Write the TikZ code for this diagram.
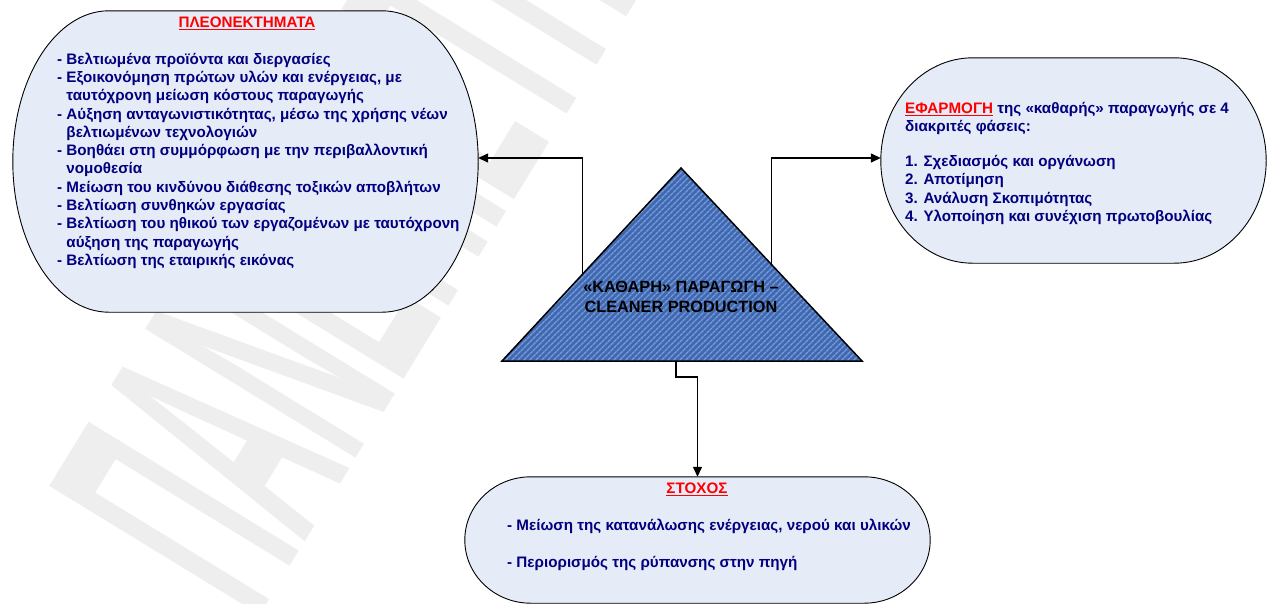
\documentclass[tikz,border=0pt]{standalone}
\usepackage{fontspec}
\setmainfont{Liberation Sans}
\usetikzlibrary{arrows.meta,calc,patterns.meta}

\definecolor{boxfill}{RGB}{230,236,247}
\definecolor{navytext}{RGB}{0,0,128}
\definecolor{headred}{RGB}{255,0,0}
\definecolor{tribase}{RGB}{62,104,178}
\definecolor{tristripe}{RGB}{122,156,214}
\definecolor{wmgrey}{RGB}{238,238,238}

% capsule outline around a named rectangular area: flat top and bottom,
% half-elliptic ends of horizontal radius #2 (pt)
\newcommand\capsule[2]{%
  \path[capsuleline] let \p1=(#1.north west), \p2=(#1.south east) in
    (\x1+#2pt,\y1) -- (\x2-#2pt,\y1)
    arc[start angle=90,end angle=-90,x radius=#2pt,y radius={(\y1-\y2)/2}]
    -- (\x1+#2pt,\y2)
    arc[start angle=270,end angle=90,x radius=#2pt,y radius={(\y1-\y2)/2}]
    -- cycle;}

\begin{document}
\begin{tikzpicture}[x=1pt,y=-1pt,
  area/.style={rectangle,inner sep=0pt,draw=none},
  capsuleline/.style={draw=black,line width=0.9pt,fill=boxfill},
  link/.style={draw=black,line width=1.4pt,-{Triangle[length=10pt,width=9pt]}},
  bodytext/.style={font=\fontsize{15.2}{18.3}\selectfont\bfseries,text=navytext,
                   align=left,inner sep=0pt,anchor=north west},
  headtext/.style={font=\fontsize{15.2}{16}\selectfont\bfseries,text=headred,inner sep=0pt},
  tritext/.style={font=\fontsize{16.3}{20}\selectfont\bfseries,text=black,align=center,inner sep=0pt},
  watermark/.style={font=\fontsize{128}{130}\selectfont\bfseries,text=wmgrey,
                    inner sep=0pt,anchor=base west,rotate=58.5}]

% page
\fill[white] (0,0) rectangle (1272,603);
\useasboundingbox (0,0) rectangle (1272,603);

% faint diagonal watermark behind the diagram, tall and narrow letters
\begin{scope}
\clip (0,0) rectangle (1272,603);
\node[watermark] (wm) at (255,623) {\scalebox{1}[2.8]{ΠΑΝΕΠΙΣΤΗΜΙΟ}};
\end{scope}

% areas of the three rounded boxes
\node[area,minimum width=465pt,minimum height=301pt] (adv) at (245.5,161.5) {};
\node[area,minimum width=385pt,minimum height=205pt] (impl) at (1073.5,160.5) {};
\node[area,minimum width=465pt,minimum height=126pt] (goal) at (697.5,540) {};

\capsule{adv}{96}
\capsule{impl}{92}
\capsule{goal}{66}

% corners of the central triangle
\coordinate (apex) at (681,168);
\coordinate (bl) at (502,361);
\coordinate (br) at (862,361);

% connectors (they start under the triangle)
\draw[link] ($(apex)!0.55!(bl)$) |- ([yshift=3.5pt]adv.east);
\draw[link] ($(apex)!0.5!(br)$) |- ([yshift=2.5pt]impl.west);
\draw[link] ($(bl)!0.483!(br)$) -- ++(0,16) -| (goal.north);

% central triangle: blue with fine diagonal stripes
\fill[tribase] (apex) -- (bl) -- (br) -- cycle;
\fill[pattern={Lines[angle=45,distance=4pt,line width=1.5pt]},pattern color=tristripe]
  (apex) -- (bl) -- (br) -- cycle;
\draw[black,line width=1.5pt,line join=miter] (apex) -- (bl) -- (br) -- cycle;

\node[tritext] (cp) at (681,297) {«ΚΑΘΑΡΗ» ΠΑΡΑΓΩΓΗ –\\CLEANER PRODUCTION};

% advantages
\node[headtext] (advhead) at (247,23) {\underline{ΠΛΕΟΝΕΚΤΗΜΑΤΑ}};
\node[bodytext] (advbody) at (57,52.5) {%
- Βελτιωμένα προϊόντα και διεργασίες\\
- Εξοικονόμηση πρώτων υλών και ενέργειας, με\\
\phantom{- }ταυτόχρονη μείωση κόστους παραγωγής\\
- Αύξηση ανταγωνιστικότητας, μέσω της χρήσης νέων\\
\phantom{- }βελτιωμένων τεχνολογιών\\
- Βοηθάει στη συμμόρφωση με την περιβαλλοντική\\
\phantom{- }νομοθεσία\\
- Μείωση του κινδύνου διάθεσης τοξικών αποβλήτων\\
- Βελτίωση συνθηκών εργασίας\\
- Βελτίωση του ηθικού των εργαζομένων με ταυτόχρονη\\
\phantom{- }αύξηση της παραγωγής\\
- Βελτίωση της εταιρικής εικόνας};

% implementation
\node[bodytext] (implbody) at (905,102) {%
\textcolor{headred}{\underline{ΕΦΑΡΜΟΓΗ}} της «καθαρής» παραγωγής σε 4\\
διακριτές φάσεις:\\[16.5pt]
1. Σχεδιασμός και οργάνωση\\
2. Αποτίμηση\\
3. Ανάλυση Σκοπιμότητας\\
4. Υλοποίηση και συνέχιση πρωτοβουλίας};

% goal
\node[headtext] (goalhead) at (697,489) {\underline{ΣΤΟΧΟΣ}};
\node[bodytext] (goalbody) at (507,518.5) {%
- Μείωση της κατανάλωσης ενέργειας, νερού και υλικών\\[18.7pt]
- Περιορισμός της ρύπανσης στην πηγή};

\end{tikzpicture}
\end{document}
